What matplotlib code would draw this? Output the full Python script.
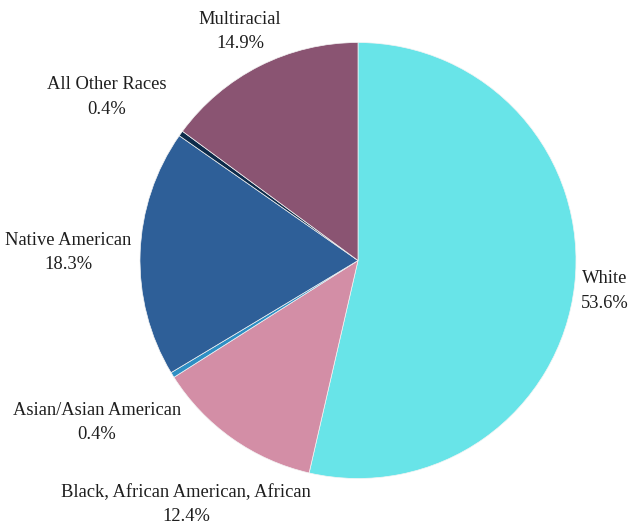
import matplotlib.pyplot as plt

races = ['White', 'Black, African American, African', 'Asian/Asian American',
         'Native American', 'All Other Races', 'Multiracial']
shares = [53.6, 12.4, 0.4, 18.3, 0.4, 14.9]
colors = ['#68e4e8', '#d38ea6', '#2e8fc4', '#2e5f98', '#0d2b4a', '#8a5472']

# label centres in pie-radius units (labels are spread out, not on the mid angle)
label_pos = [(1.133, -0.140), (-0.789, -1.120), (-1.197, -0.745),
             (-1.330, 0.035), (-1.151, 0.750), (-0.541, 1.050)]

fig = plt.figure(figsize=(6.31, 5.25), dpi=100)
ax = fig.add_axes([0, 0, 1, 1])

ax.pie(shares, colors=colors, startangle=90, counterclock=False,
       wedgeprops=dict(linewidth=0.5, edgecolor='#f4f4f4'))

for name, val, (x, y) in zip(races, shares, label_pos):
    ax.text(x, y, f'{name}\n{val}%', ha='center', va='center',
            fontsize=13.3, family='Liberation Serif', color='#1e1e1e',
            linespacing=1.55)

# pie centre at (358, 260) px, radius ~218 px
W, H, R = 631, 525, 218
cx, cy = 358, 260.5
ax.set_xlim(-cx / R, (W - cx) / R)
ax.set_ylim(-(H - cy) / R, cy / R)
ax.set_aspect('equal')
ax.axis('off')

plt.savefig('out.png', dpi=100)
